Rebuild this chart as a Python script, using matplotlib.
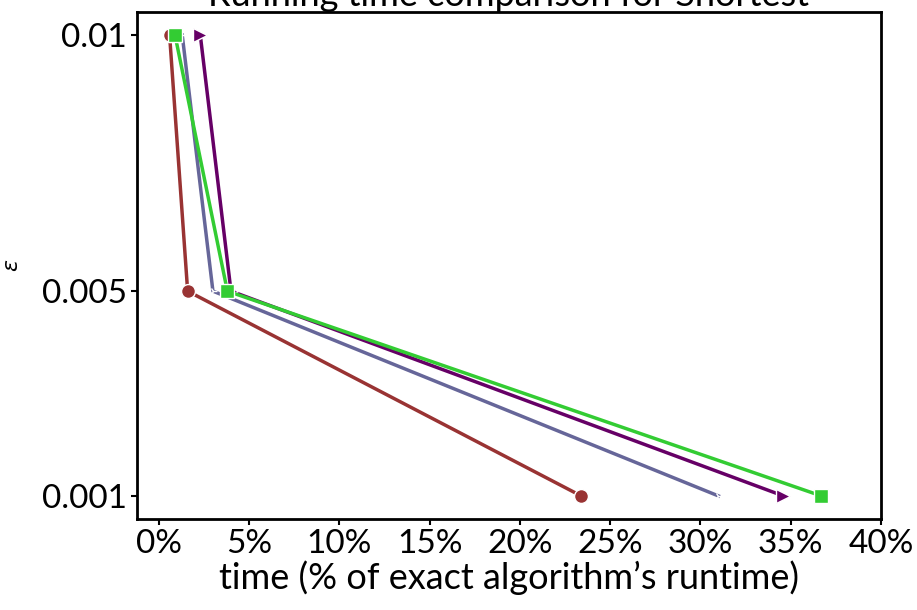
import matplotlib
matplotlib.use("Agg")
import matplotlib.pyplot as plt
from matplotlib.ticker import FuncFormatter

eps = [0.01, 0.005, 0.001]
red_time = [0.6, 1.6, 23.4]
blue_time = [1.3, 3.0, 31.0]
purple_time = [2.3, 4.0, 34.6]
green_time = [0.9, 3.8, 36.7]

plt.rcParams['font.family'] = ['Lato', 'DejaVu Sans']
fig = plt.figure(figsize=(9.17, 6.10), dpi=100)
ax = fig.add_axes([0.1494, 0.1492, 0.8113, 0.8311])

ax.plot(red_time, eps, color='#993333', lw=2.5, marker='o', ms=10, mec='white', mew=1)
ax.plot(blue_time, eps, color='#666699', lw=2.5, marker='4', ms=6, mec='white', mew=1)
ax.plot(purple_time, eps, color='#660066', lw=2.5, marker='>', ms=10, mec='white', mew=1)
ax.plot(green_time, eps, color='#33cc33', lw=2.5, marker='s', ms=10, mec='white', mew=1)

ax.set_xlim(right=40)
ax.set_yticks([0.01, 0.005, 0.001])
ax.set_yticklabels(['0.01', '0.005', '0.001'])
ax.set_xticks(range(0, 41, 5))
ax.xaxis.set_major_formatter(FuncFormatter(lambda v, p: f"{v:.0f}%"))
ax.tick_params(labelsize=24, length=4, width=1.5)
for s in ax.spines.values():
    s.set_linewidth(2)
ax.set_xlabel("time (% of exact algorithm\u2019s runtime)", fontsize=26, labelpad=1)
ax.set_ylabel(r"$\varepsilon$", fontsize=16, labelpad=14)
ax.set_title("Running time comparison for Shortest", fontsize=26, pad=3)

fig.savefig("out.png", dpi=100)
